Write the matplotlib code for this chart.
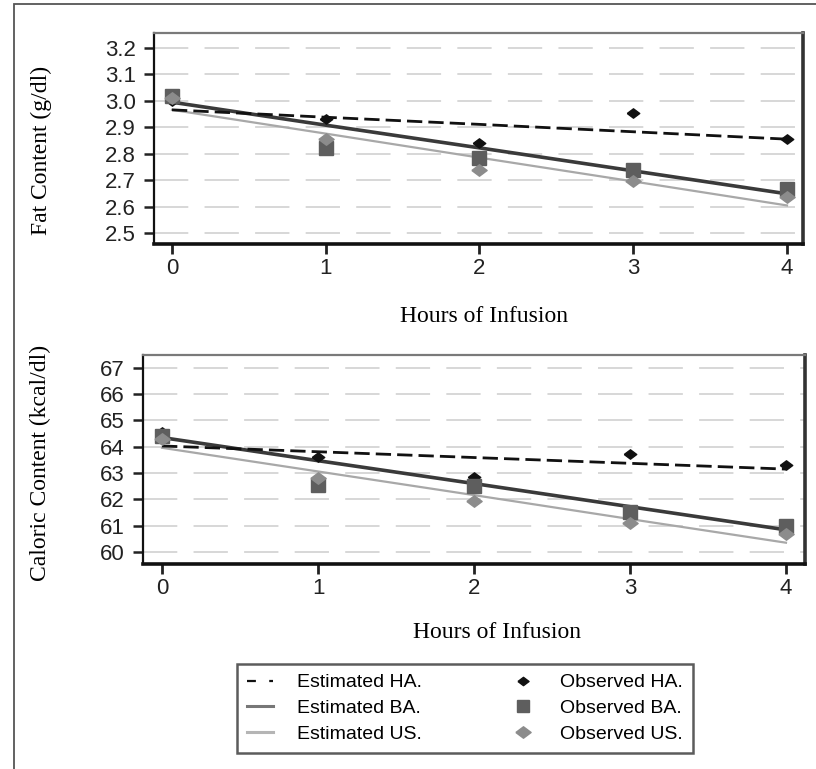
import matplotlib
matplotlib.use("Agg")
import matplotlib.pyplot as plt
from matplotlib.lines import Line2D
from matplotlib.patches import Rectangle

# ---- data ----
hours = [0, 1, 2, 3, 4]
xticks = [0, 1, 2, 3, 4]

fat_obs_ha = [3.0, 2.93, 2.84, 2.955, 2.855]
fat_obs_ba = [3.02, 2.82, 2.785, 2.74, 2.665]
fat_obs_us = [3.01, 2.855, 2.74, 2.695, 2.635]
fat_est_ha = [2.966, 2.938, 2.911, 2.883, 2.855]
fat_est_ba = [2.995, 2.908, 2.822, 2.735, 2.648]
fat_est_us = [2.966, 2.876, 2.785, 2.695, 2.604]
fat_yticks = [2.5, 2.6, 2.7, 2.8, 2.9, 3.0, 3.1, 3.2]
fat_yticklabels = ["2.5", "2.6", "2.7", "2.8", "2.9", "3.0", "3.1", "3.2"]

cal_obs_ha = [64.57, 63.6, 62.85, 63.73, 63.3]
cal_obs_ba = [64.4, 62.55, 62.5, 61.5, 60.97]
cal_obs_us = [64.3, 62.8, 61.95, 61.1, 60.7]
cal_est_ha = [64.03, 63.81, 63.59, 63.37, 63.15]
cal_est_ba = [64.35, 63.47, 62.6, 61.72, 60.84]
cal_est_us = [63.96, 63.06, 62.16, 61.25, 60.35]
cal_yticks = [60, 61, 62, 63, 64, 65, 66, 67]

legend_labels = ["Estimated HA.", "Estimated BA.", "Estimated US.",
                 "Observed HA.", "Observed BA.", "Observed US."]

# ---- styles ----
C_HA = "#111111"
C_BA_LINE = "#3a3a3a"
C_US_LINE = "#a8a8a8"
C_BA_MK = "#5e5e5e"
C_US_MK = "#8c8c8c"
wide_diamond = [(-1, 0), (0, 0.75), (1, 0), (0, -0.75), (-1, 0)]

SANS = ["Liberation Sans", "DejaVu Sans"]
SERIF = ["Liberation Serif", "DejaVu Serif"]
TICK_FS = 16
LABEL_FS = 17

fig = plt.figure(figsize=(8.16, 7.69), dpi=100)
W, H = 816, 769

# outer frame
fig.add_artist(Rectangle((14 / W, -0.1), 1.2, 1 - 4 / H + 0.1, transform=fig.transFigure,
                         fill=False, edgecolor="#555555", linewidth=1.3))


def px_axes(l, t, r, b):
    return fig.add_axes([l / W, 1 - b / H, (r - l) / W, (b - t) / H])


def style_axes(ax, yticks, ylabels, xlim, ylim):
    ax.set_xlim(*xlim)
    ax.set_ylim(*ylim)
    ax.set_xticks(xticks)
    ax.set_xticklabels([str(v) for v in xticks], family=SANS, fontsize=TICK_FS)
    ax.set_yticks(yticks)
    ax.set_yticklabels(ylabels, family=SANS, fontsize=TICK_FS)
    for y in yticks:
        ax.axhline(y, color="#d4d4d4", lw=1.3, ls=(0, (19, 9)), zorder=0.5)
    ax.spines["left"].set_linewidth(1.6)
    ax.spines["left"].set_color("#111111")
    ax.spines["bottom"].set_linewidth(2.6)
    ax.spines["bottom"].set_color("#111111")
    ax.spines["top"].set_linewidth(1.6)
    ax.spines["top"].set_color("#7a7a7a")
    ax.spines["right"].set_linewidth(2.6)
    ax.spines["right"].set_color("#333333")
    ax.tick_params(axis="y", direction="out", length=7, width=1.8, pad=6, colors="#222222")
    ax.tick_params(axis="x", direction="out", length=7, width=2.0, pad=3, colors="#222222")


def draw(ax, est_ha, est_ba, est_us, obs_ha, obs_ba, obs_us):
    ax.plot(hours, est_us, color=C_US_LINE, lw=1.6, zorder=2)
    ax.plot(hours, est_ba, color=C_BA_LINE, lw=2.6, zorder=3)
    ax.plot(hours, est_ha, color=C_HA, lw=2.0, ls=(0, (5.5, 2.2)), zorder=3)
    ax.plot(hours, obs_ha, ls="none", marker=wide_diamond, ms=9, color=C_HA, zorder=4)
    ax.plot(hours, obs_ba, ls="none", marker="s", ms=9.5, color=C_BA_MK, zorder=4)
    ax.plot(hours, obs_us, ls="none", marker=wide_diamond, ms=11, color=C_US_MK, zorder=4)


# top: fat content
ax1 = px_axes(154, 33, 803, 244)
draw(ax1, fat_est_ha, fat_est_ba, fat_est_us, fat_obs_ha, fat_obs_ba, fat_obs_us)
style_axes(ax1, fat_yticks, fat_yticklabels, (-0.117, 4.104), (2.458, 3.257))
ax1.set_xlabel("Hours of Infusion", family=SERIF, fontsize=LABEL_FS)
ax1.xaxis.set_label_coords(0.508, -0.294)
ax1.set_ylabel("Fat Content (g/dl)", family=SERIF, fontsize=LABEL_FS)
ax1.yaxis.set_label_coords(-0.157, 0.445)

# bottom: caloric content
ax2 = px_axes(143, 355, 805, 564)
draw(ax2, cal_est_ha, cal_est_ba, cal_est_us, cal_obs_ha, cal_obs_ba, cal_obs_us)
style_axes(ax2, cal_yticks, [str(v) for v in cal_yticks], (-0.122, 4.122), (59.54, 67.49))
ax2.set_xlabel("Hours of Infusion", family=SERIF, fontsize=LABEL_FS)
ax2.xaxis.set_label_coords(0.535, -0.278)
ax2.set_ylabel("Caloric Content (kcal/dl)", family=SERIF, fontsize=LABEL_FS)
ax2.yaxis.set_label_coords(-0.139, 0.483)

# legend
handles = [
    Line2D([], [], color=C_HA, lw=1.6, ls=(0, (4, 6))),
    Line2D([], [], color="#777777", lw=2.2),
    Line2D([], [], color="#b5b5b5", lw=2.2),
    Line2D([], [], ls="none", marker=wide_diamond, ms=8, color=C_HA),
    Line2D([], [], ls="none", marker="s", ms=9, color=C_BA_MK),
    Line2D([], [], ls="none", marker=wide_diamond, ms=11, color=C_US_MK),
]
leg = fig.legend(handles, legend_labels, ncol=2, loc="upper left",
                 bbox_to_anchor=(237 / W, 1 - 664 / H), borderaxespad=0,
                 frameon=True, fancybox=False, shadow=False,
                 prop={"family": SANS, "size": 14}, handlelength=1.35,
                 handletextpad=1.25, labelspacing=0.42, borderpad=0.5,
                 columnspacing=4.5)
leg.get_frame().set_edgecolor("#333333")
leg.get_frame().set_linewidth(1.8)

fig.savefig("out.png", dpi=100)
